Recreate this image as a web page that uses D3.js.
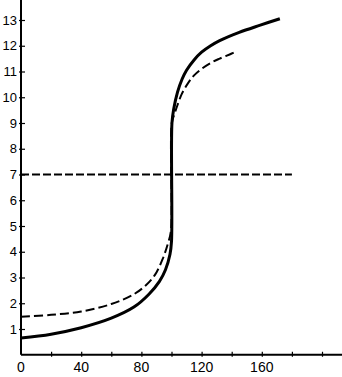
<!doctype html>
<html lang="en">
  <head>
    <meta charset="UTF-8" />
    <title>Titration curves</title>
    <script src="https://unpkg.com/d3@7.9.0/dist/d3.min.js"></script>
    <style>
      body {
        margin: 0;
        background: #fff;
      }
      svg {
        display: block;
        font-family: 'Liberation Sans', Arial, sans-serif;
      }
    </style>
  </head>
  <body>
    <div id="graph"></div>

    <script>
      // strong acid curve (solid)
      const solidX = [0, 20, 40, 60, 75, 85, 92, 96, 99, 100, 100.3, 101.5, 104, 107, 110, 115, 120, 126, 132, 145, 159, 172];
      const solidY = [0.65, 0.8, 1.05, 1.42, 1.85, 2.35, 2.85, 3.3, 3.9, 4.4, 9.0, 9.55, 10.2, 10.7, 11.05, 11.45, 11.75, 12.0, 12.2, 12.52, 12.8, 13.05];

      // weaker acid curve (dashed)
      const dashX = [0, 20, 40, 60, 75, 83, 89, 94, 97.5, 99.6, 100.2, 102, 104, 107, 111, 115, 120, 126, 132, 140, 142.8];
      const dashY = [1.48, 1.55, 1.68, 1.97, 2.35, 2.7, 3.1, 3.7, 4.3, 4.8, 9.0, 9.35, 9.7, 10.15, 10.55, 10.85, 11.1, 11.33, 11.5, 11.7, 11.78];

      const neutralY = 7;
      const neutralX = [0, 180];

      const yTicks = d3.range(1, 14);
      const xTicks = d3.range(20, 201, 20);
      const xLabels = [0, 40, 80, 120, 160];

      const W = 342;
      const H = 377;

      const x = d3.scaleLinear().domain([0, 200]).range([21, 322]);
      const y = d3.scaleLinear().domain([0, 13]).range([354.75, 20]);

      const svg = d3
        .select('#graph')
        .append('svg')
        .attr('width', W)
        .attr('height', H);

      // axis lines
      svg
        .append('line')
        .attr('x1', x(0))
        .attr('x2', x(0))
        .attr('y1', 0)
        .attr('y2', y(0))
        .attr('stroke', '#000')
        .attr('stroke-width', 2);

      svg
        .append('line')
        .attr('x1', x(0))
        .attr('x2', W)
        .attr('y1', y(0))
        .attr('y2', y(0))
        .attr('stroke', '#000')
        .attr('stroke-width', 2);

      // y axis ticks + labels
      const yAxis = svg
        .append('g')
        .attr('transform', `translate(${x(0)},0)`)
        .call(d3.axisLeft(y).tickValues(yTicks).tickSize(0).tickPadding(4));
      yAxis.select('.domain').remove();
      yAxis
        .selectAll('.tick line')
        .attr('x1', -2)
        .attr('x2', 4)
        .attr('stroke', '#000')
        .attr('stroke-width', 1.2);
      yAxis
        .selectAll('.tick text')
        .attr('font-size', 13)
        .attr('font-family', "'Liberation Sans', Arial, sans-serif")
        .attr('fill', '#000');

      // x axis ticks + labels
      const xAxis = svg
        .append('g')
        .attr('transform', `translate(0,${y(0)})`)
        .call(d3.axisBottom(x).tickValues(xTicks).tickSize(0).tickFormat(''));
      xAxis.select('.domain').remove();
      xAxis
        .selectAll('.tick line')
        .attr('y1', -3)
        .attr('y2', 2)
        .attr('stroke', '#000')
        .attr('stroke-width', 1.2);

      svg
        .append('g')
        .selectAll('text')
        .data(xLabels)
        .enter()
        .append('text')
        .attr('x', (d) => x(d))
        .attr('y', 372)
        .attr('text-anchor', 'middle')
        .attr('font-size', 14)
        .text((d) => d);

      // neutral line
      svg
        .append('line')
        .attr('x1', x(neutralX[0]))
        .attr('x2', x(neutralX[1]))
        .attr('y1', y(neutralY))
        .attr('y2', y(neutralY))
        .attr('stroke', '#000')
        .attr('stroke-width', 1.8)
        .attr('stroke-dasharray', '8,3');

      const line = d3
        .line()
        .x((d) => x(d[0]))
        .y((d) => y(d[1]))
        .curve(d3.curveCatmullRom.alpha(0.5));

      svg
        .append('path')
        .datum(dashX.map((v, i) => [v, dashY[i]]))
        .attr('d', line)
        .attr('fill', 'none')
        .attr('stroke', '#000')
        .attr('stroke-width', 2)
        .attr('stroke-dasharray', '9,4');

      svg
        .append('path')
        .datum(solidX.map((v, i) => [v, solidY[i]]))
        .attr('d', line)
        .attr('fill', 'none')
        .attr('stroke', '#000')
        .attr('stroke-width', 3);
    </script>
  </body>
</html>
